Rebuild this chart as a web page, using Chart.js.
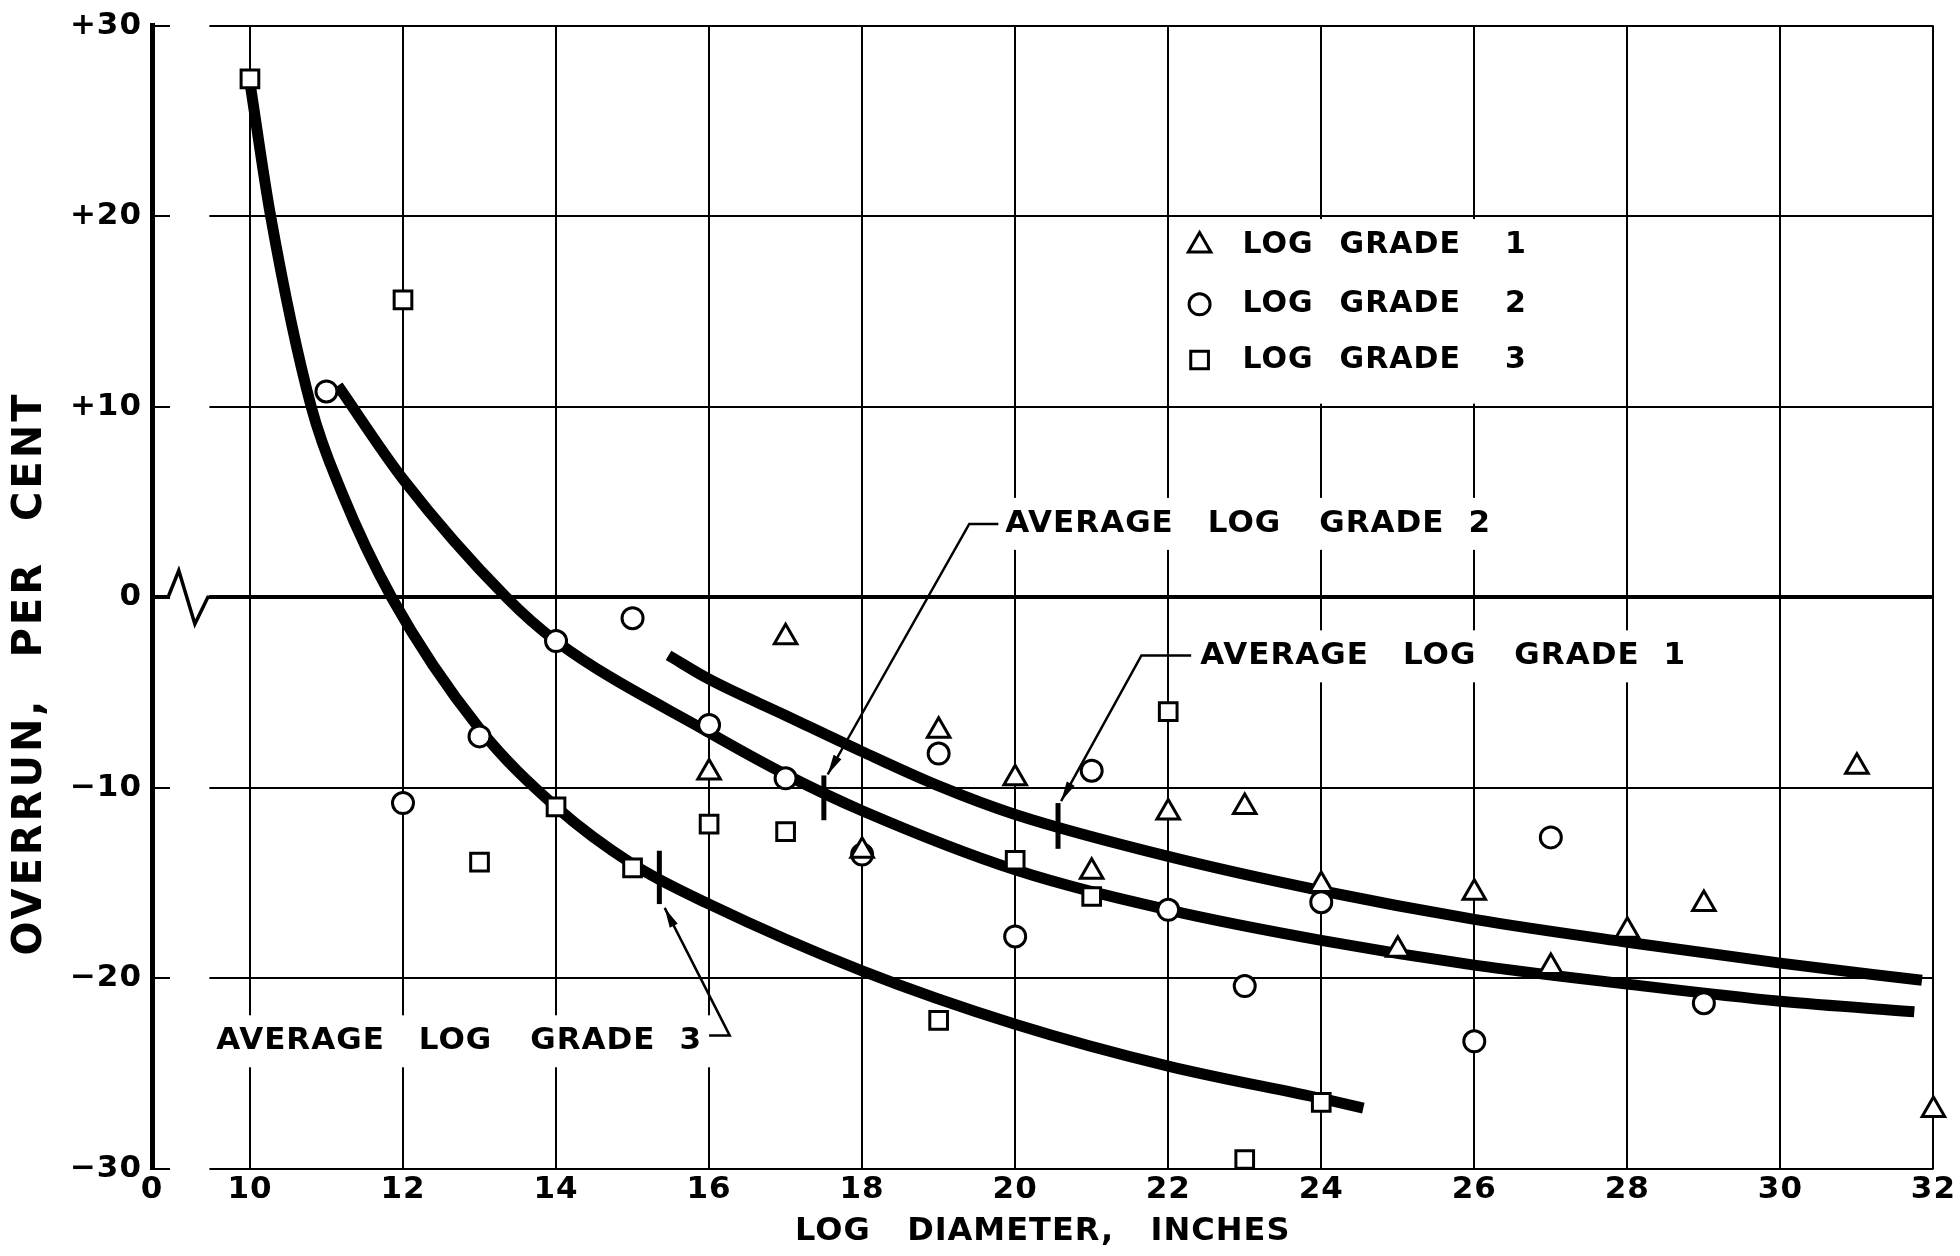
<!DOCTYPE html>
<html>
<head>
<meta charset="utf-8">
<title>Overrun by log diameter</title>
<script src="https://cdn.jsdelivr.net/npm/chart.js@4.4.1/dist/chart.umd.min.js"></script>
<style>
  html, body { margin: 0; padding: 0; background: #fff; }
  #wrap { width: 1960px; height: 1256px; }
</style>
</head>
<body>
<div id="wrap"><canvas id="chart" width="1960" height="1256"></canvas></div>
<script>
// tick labels
const xTicks = [10, 12, 14, 16, 18, 20, 22, 24, 26, 28, 30, 32];
const yTicks = [-30, -20, -10, 0, 10, 20, 30];

// plotted points, log grade 1 (triangles)
const grade1Dia = [16, 17, 18, 19, 20, 21, 22, 23, 24, 25, 26, 27, 28, 29, 31, 32];
const grade1Overrun = [-9.2, -2.1, -13.3, -7.0, -9.5, -14.4, -11.3, -11.0, -15.1, -18.5, -15.5, -19.4, -17.5, -16.1, -8.9, -26.9];

// log grade 2 (circles)
const grade2Dia = [11, 12, 13, 14, 15, 16, 17, 18, 19, 20, 21, 22, 23, 24, 26, 27, 29];
const grade2Overrun = [10.8, -10.8, -7.3, -2.3, -1.1, -6.7, -9.5, -13.5, -8.2, -17.8, -9.1, -16.4, -20.4, -16.0, -23.3, -12.6, -21.3];

// log grade 3 (squares)
const grade3Dia = [10, 12, 13, 14, 15, 16, 17, 19, 20, 21, 22, 23, 24];
const grade3Overrun = [27.2, 15.6, -13.9, -11.0, -14.2, -11.9, -12.3, -22.2, -13.8, -15.7, -6.0, -29.5, -26.5];

// average curves
const avg1Dia = [15.47, 16, 17, 18, 19, 20, 22, 24, 26, 28, 30, 31.85];
const avg1Overrun = [-3.05, -4.3, -6.2, -8.1, -9.9, -11.4, -13.6, -15.4, -16.9, -18.1, -19.2, -20.1];

const avg2Dia = [11.15, 12, 13.35, 14, 16, 17, 18, 20, 22, 24, 26, 28, 30, 31.75];
const avg2Overrun = [11.1, 6.2, 0, -2.3, -7.1, -9.3, -11.2, -14.3, -16.4, -18.0, -19.3, -20.3, -21.2, -21.75];

const avg3Dia = [10, 10.27, 10.8, 11.2, 11.85, 13, 14, 15, 16, 18, 20, 22, 24, 24.55];
const avg3Overrun = [27.0, 20, 10, 5.5, 0, -6.9, -11.0, -14.0, -16.1, -19.6, -22.4, -24.6, -26.3, -26.8];

const FONT = '"DejaVu Sans", "Liberation Sans", sans-serif';
const X_MIN = 8.72;      // the "0" sits on the y axis, the scale is broken before 10
const GRID_START = 9.47; // rules start again after the break

const toPoints = (xs, ys) => xs.map((v, i) => ({ x: v, y: ys[i] }));

const markerSet = (label, xs, ys, style, radius) => ({
  type: 'scatter',
  label: label,
  data: toPoints(xs, ys),
  pointStyle: style,
  pointRadius: radius,
  pointHoverRadius: radius,
  pointBorderWidth: 3,
  pointBackgroundColor: '#fff',
  pointBorderColor: '#000',
  clip: false,
  order: 0
});

const curveSet = (label, xs, ys) => ({
  type: 'line',
  label: label,
  data: toPoints(xs, ys),
  borderColor: '#000',
  borderWidth: 11,
  borderCapStyle: 'butt',
  cubicInterpolationMode: 'monotone',
  pointRadius: 0,
  fill: false,
  order: 1
});

// curve notes: text position, leader path (last point = arrow tip) and the mark on the curve
const notes = [
  { words: ['AVERAGE', 'LOG', 'GRADE', '2'], x: 19.87, y: 3.85,
    leader: [[19.78, 3.85], [19.40, 3.85], [17.55, -9.3]], mark: [17.5, -9.35, -11.7] },
  { words: ['AVERAGE', 'LOG', 'GRADE', '1'], x: 22.42, y: -3.1,
    leader: [[22.3, -3.05], [21.65, -3.05], [20.6, -10.7]], mark: [20.56, -10.8, -13.2] },
  { words: ['AVERAGE', 'LOG', 'GRADE', '3'], x: 9.56, y: -23.3,
    leader: [[16.0, -23.0], [16.27, -23.0], [15.42, -16.3]], mark: [15.35, -13.3, -16.1] }
];
const noteGaps = [34, 38, 24];

// key in the upper right
const keyRows = [
  { style: 'triangle', radius: 13, text: ['LOG', 'GRADE', '1'], y: 18.45 },
  { style: 'circle', radius: 10.5, text: ['LOG', 'GRADE', '2'], y: 15.37 },
  { style: 'rect', radius: 12.5, text: ['LOG', 'GRADE', '3'], y: 12.45 }
];
const keyGaps = [26, 44];

function wordsWidth(ctx, words, gaps) {
  let w = 0;
  words.forEach((word, i) => {
    w += ctx.measureText(word).width;
    if (i < words.length - 1) w += gaps[i];
  });
  return w;
}

function drawWords(ctx, words, gaps, x, y) {
  let cx = x;
  words.forEach((word, i) => {
    ctx.fillText(word, cx, y);
    cx += ctx.measureText(word).width + (gaps[i] || 0);
  });
}

function arrowHead(ctx, fx, fy, tx, ty) {
  const a = Math.atan2(ty - fy, tx - fx);
  const len = 20, half = 4.5;
  ctx.beginPath();
  ctx.moveTo(tx, ty);
  ctx.lineTo(tx - len * Math.cos(a) + half * Math.sin(a), ty - len * Math.sin(a) - half * Math.cos(a));
  ctx.lineTo(tx - len * Math.cos(a) - half * Math.sin(a), ty - len * Math.sin(a) + half * Math.cos(a));
  ctx.closePath();
  ctx.fill();
}

function drawMarker(ctx, style, radius, px, py) {
  ctx.fillStyle = '#fff';
  ctx.strokeStyle = '#000';
  ctx.lineWidth = 3;
  if (Chart.helpers && Chart.helpers.drawPoint) {
    Chart.helpers.drawPoint(ctx, { pointStyle: style, radius: radius, rotation: 0, borderWidth: 3 }, px, py);
    return;
  }
  ctx.beginPath();
  ctx.arc(px, py, radius, 0, Math.PI * 2);
  ctx.fill();
  ctx.stroke();
}

const notesPlugin = {
  id: 'overrunNotes',
  beforeDraw(chart) {
    chart.ctx.letterSpacing = '1px';
  },
  beforeDatasetsDraw(chart) {
    const { ctx, chartArea: area, scales: { x, y } } = chart;
    ctx.save();
    ctx.fillStyle = '#fff';

    // break between the y axis (with its short ticks) and the rules
    const gapL = area.left + 18;
    const gapR = x.getPixelForValue(GRID_START);
    ctx.fillRect(gapL, area.top - 4, gapR - gapL, area.bottom - area.top + 8);

    // rules are left out behind the key
    const kL = x.getPixelForValue(22.15), kR = x.getPixelForValue(27.75);
    const kT = y.getPixelForValue(20) + 3, kB = y.getPixelForValue(10) - 3;
    ctx.fillRect(kL, kT, kR - kL, kB - kT);

    // and behind the curve notes
    ctx.letterSpacing = '1px';
    ctx.font = 'bold 31px ' + FONT;
    notes.forEach(n => {
      const w = wordsWidth(ctx, n.words, noteGaps);
      const l = x.getPixelForValue(n.x) - 14;
      const cy = y.getPixelForValue(n.y);
      ctx.fillRect(l, cy - 26, w + 28, 52);
    });

    // zigzag on the zero line across the break
    const zx = [X_MIN, 8.93, 9.07, 9.28, 9.45, GRID_START + 0.03];
    const zy = [0, 0, 1.4, -1.4, 0, 0];
    ctx.strokeStyle = '#000';
    ctx.lineWidth = 3.5;
    ctx.lineJoin = 'miter';
    ctx.beginPath();
    zx.forEach((v, i) => {
      const px = x.getPixelForValue(v), py = y.getPixelForValue(zy[i]);
      if (i === 0) ctx.moveTo(px, py); else ctx.lineTo(px, py);
    });
    ctx.stroke();
    ctx.restore();
  },
  afterDatasetsDraw(chart) {
    const { ctx, scales: { x, y } } = chart;
    ctx.save();
    ctx.fillStyle = '#000';
    ctx.strokeStyle = '#000';
    ctx.textBaseline = 'middle';
    ctx.textAlign = 'left';
    ctx.letterSpacing = '1px';

    // curve notes with leaders
    ctx.font = 'bold 31px ' + FONT;
    notes.forEach(n => {
      drawWords(ctx, n.words, noteGaps, x.getPixelForValue(n.x), y.getPixelForValue(n.y));
      const pts = n.leader.map(p => [x.getPixelForValue(p[0]), y.getPixelForValue(p[1])]);
      ctx.lineWidth = 2.5;
      ctx.beginPath();
      pts.forEach((p, i) => { if (i === 0) ctx.moveTo(p[0], p[1]); else ctx.lineTo(p[0], p[1]); });
      ctx.stroke();
      const a = pts[pts.length - 2], b = pts[pts.length - 1];
      arrowHead(ctx, a[0], a[1], b[0], b[1]);
      // short bar across the curve
      ctx.lineWidth = 5;
      ctx.beginPath();
      ctx.moveTo(x.getPixelForValue(n.mark[0]), y.getPixelForValue(n.mark[1]));
      ctx.lineTo(x.getPixelForValue(n.mark[0]), y.getPixelForValue(n.mark[2]));
      ctx.stroke();
    });

    // key
    ctx.font = 'bold 30px ' + FONT;
    keyRows.forEach(r => {
      const py = y.getPixelForValue(r.y);
      drawMarker(ctx, r.style, r.radius, x.getPixelForValue(22.41), py);
      ctx.fillStyle = '#000';
      drawWords(ctx, r.text, keyGaps, x.getPixelForValue(22.97), py);
    });

    // y axis title
    ctx.font = 'bold 40px ' + FONT;
    ctx.letterSpacing = '3px';
    const yWords = ['OVERRUN,', 'PER', 'CENT'];
    const yGaps = [40, 40];
    const tw = wordsWidth(ctx, yWords, yGaps);
    ctx.translate(31, y.getPixelForValue(-4));
    ctx.rotate(-Math.PI / 2);
    drawWords(ctx, yWords, yGaps, -tw / 2, 0);
    ctx.restore();
  }
};

const tickFont = { family: FONT, size: 31, weight: 'bold', lineHeight: 1 };

new Chart(document.getElementById('chart'), {
  type: 'scatter',
  data: {
    datasets: [
      markerSet('LOG GRADE 1', grade1Dia, grade1Overrun, 'triangle', 13),
      markerSet('LOG GRADE 2', grade2Dia, grade2Overrun, 'circle', 10.5),
      markerSet('LOG GRADE 3', grade3Dia, grade3Overrun, 'rect', 12.5),
      curveSet('AVERAGE LOG GRADE 1', avg1Dia, avg1Overrun),
      curveSet('AVERAGE LOG GRADE 2', avg2Dia, avg2Overrun),
      curveSet('AVERAGE LOG GRADE 3', avg3Dia, avg3Overrun)
    ]
  },
  options: {
    responsive: false,
    animation: false,
    devicePixelRatio: 1,
    layout: { padding: { top: 21, right: 23, left: 0, bottom: 0 } },
    plugins: {
      legend: { display: false },
      tooltip: { enabled: false }
    },
    scales: {
      x: {
        type: 'linear',
        min: X_MIN,
        max: 32,
        afterBuildTicks: s => { s.ticks = [X_MIN].concat(xTicks).map(v => ({ value: v })); },
        afterFit: s => { s.height = 87; },
        grid: { color: '#000', lineWidth: 2, drawTicks: false },
        border: { display: false },
        ticks: {
          autoSkip: false,
          maxRotation: 0,
          padding: 5,
          color: '#000',
          font: tickFont,
          callback: v => (v === X_MIN ? '0' : String(v))
        },
        title: {
          display: true,
          text: 'LOG   DIAMETER,   INCHES',
          color: '#000',
          font: { family: FONT, size: 32, weight: 'bold', lineHeight: 1 },
          padding: { top: 0, bottom: 8 }
        }
      },
      y: {
        type: 'linear',
        min: -30,
        max: 30,
        afterBuildTicks: s => { s.ticks = yTicks.map(v => ({ value: v })); },
        afterFit: s => { s.width = 152; },
        grid: {
          color: '#000',
          lineWidth: c => (c.tick && c.tick.value === 0 ? 4 : 2),
          drawTicks: false
        },
        border: { display: true, color: '#000', width: 5 },
        ticks: {
          padding: 10,
          color: '#000',
          font: tickFont,
          callback: v => (v > 0 ? '+' + v : v < 0 ? '\u2212' + (-v) : '0')
        }
      }
    }
  },
  plugins: [notesPlugin]
});
</script>
</body>
</html>
